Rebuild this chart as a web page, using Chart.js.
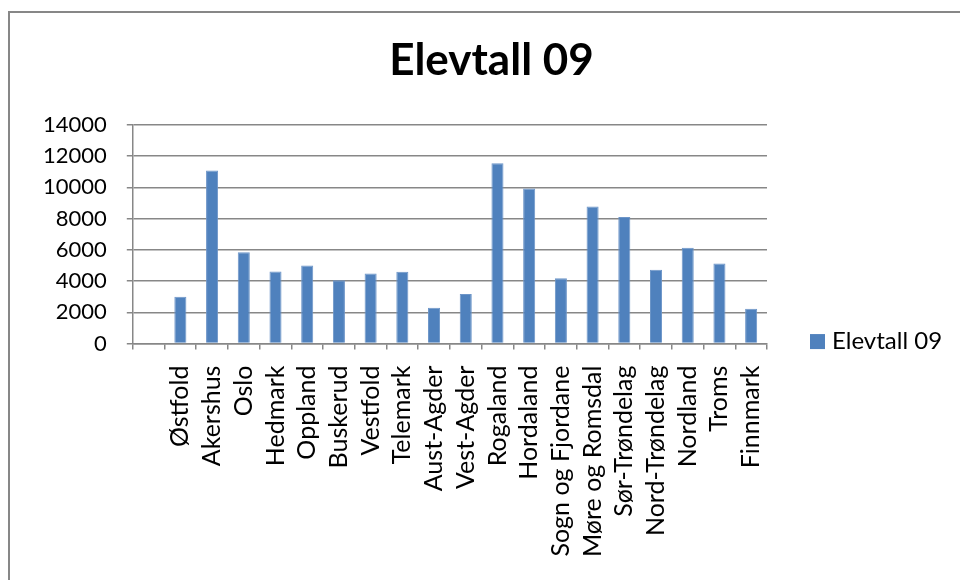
<!DOCTYPE html>
<html lang="no">
<head>
    <meta charset="UTF-8">
    <title>Elevtall 09</title>
    <script src="https://cdn.jsdelivr.net/npm/chart.js"></script>
    <style>
        body {
            margin: 0;
            background-color: #fff;
        }

        .frame {
            position: absolute;
            left: 8px;
            top: 11px;
            right: 0;
            bottom: 0;
            border-left: 2px solid #878787;
            border-top: 2px solid #878787;
        }

        .chart-container {
            position: absolute;
            left: 0;
            top: 0;
            width: 960px;
            height: 580px;
        }
    </style>
</head>
<body>

    <div class="frame"></div>
    <div class="chart-container">
        <canvas id="elevChart"></canvas>
    </div>

    <script>
        // Første kategori er tom i originalen
        var fylker = ['', 'Østfold', 'Akershus', 'Oslo', 'Hedmark', 'Oppland', 'Buskerud', 'Vestfold',
            'Telemark', 'Aust-Agder', 'Vest-Agder', 'Rogaland', 'Hordaland', 'Sogn og Fjordane',
            'Møre og Romsdal', 'Sør-Trøndelag', 'Nord-Trøndelag', 'Nordland', 'Troms', 'Finnmark'];
        var elevtall09 = [null, 3000, 11080, 5850, 4610, 5000, 4050, 4480, 4590, 2290, 3170,
            11540, 9930, 4180, 8770, 8100, 4720, 6130, 5120, 2230];
        var yTicks = [0, 2000, 4000, 6000, 8000, 10000, 12000, 14000];

        var grey = '#878787';
        var font = 'Lato, "Open Sans", sans-serif';

        // Egen forklaring til høyre, nede ved x-aksen som i Excel
        var legendPlugin = {
            id: 'excelLegend',
            afterDraw: function (chart) {
                var c = chart.ctx;
                var area = chart.chartArea;
                var ds = chart.data.datasets[0];
                var x = area.right + 43;
                var y = area.bottom - 2;
                c.save();
                c.fillStyle = ds.backgroundColor;
                c.fillRect(x, y - 7.5, 15, 15);
                c.fillStyle = '#000';
                c.font = '24px ' + font;
                c.textBaseline = 'middle';
                c.fillText(ds.label, x + 22, y);
                c.restore();
            }
        };

        var ctx = document.getElementById('elevChart').getContext('2d');
        var chart = new Chart(ctx, {
            type: 'bar',
            data: {
                labels: fylker,
                datasets: [{
                    label: 'Elevtall 09',
                    data: elevtall09,
                    backgroundColor: '#4F81BD',
                    borderColor: '#6D95C8',
                    borderWidth: 1,
                    barPercentage: 0.38,
                    categoryPercentage: 1
                }]
            },
            plugins: [legendPlugin],
            options: {
                responsive: true,
                maintainAspectRatio: false,
                animation: false,
                layout: {
                    padding: { left: 23, right: 0, top: 14, bottom: 7 }
                },
                plugins: {
                    title: {
                        display: true,
                        text: 'Elevtall 09',
                        color: '#000',
                        font: { family: font, size: 44, weight: 'bold' },
                        padding: { top: 20, bottom: 38 }
                    },
                    legend: { display: false },
                    tooltip: { enabled: false }
                },
                scales: {
                    x: {
                        grid: {
                            offset: true,
                            drawOnChartArea: false,
                            drawTicks: true,
                            tickLength: 6,
                            color: grey,
                            lineWidth: 1.5
                        },
                        border: { color: grey, width: 1.5 },
                        ticks: {
                            color: '#000',
                            font: { family: font, size: 25 },
                            minRotation: 90,
                            maxRotation: 90,
                            autoSkip: false,
                            padding: 16
                        }
                    },
                    y: {
                        min: 0,
                        max: 14000,
                        afterBuildTicks: function (axis) {
                            axis.ticks = yTicks.map(function (v) { return { value: v }; });
                        },
                        grid: {
                            color: grey,
                            lineWidth: 1.5,
                            tickLength: 6
                        },
                        border: { color: grey, width: 1.5 },
                        ticks: {
                            color: '#000',
                            font: { family: font, size: 22 },
                            padding: 20,
                            callback: function (value) { return String(value); }
                        }
                    },
                    // tom akse som holder av plass til forklaringen
                    space: {
                        type: 'linear',
                        position: 'right',
                        grid: { display: false },
                        border: { display: false },
                        ticks: { display: false },
                        afterFit: function (scale) { scale.width = 193; }
                    }
                }
            }
        });
    </script>
</body>
</html>
